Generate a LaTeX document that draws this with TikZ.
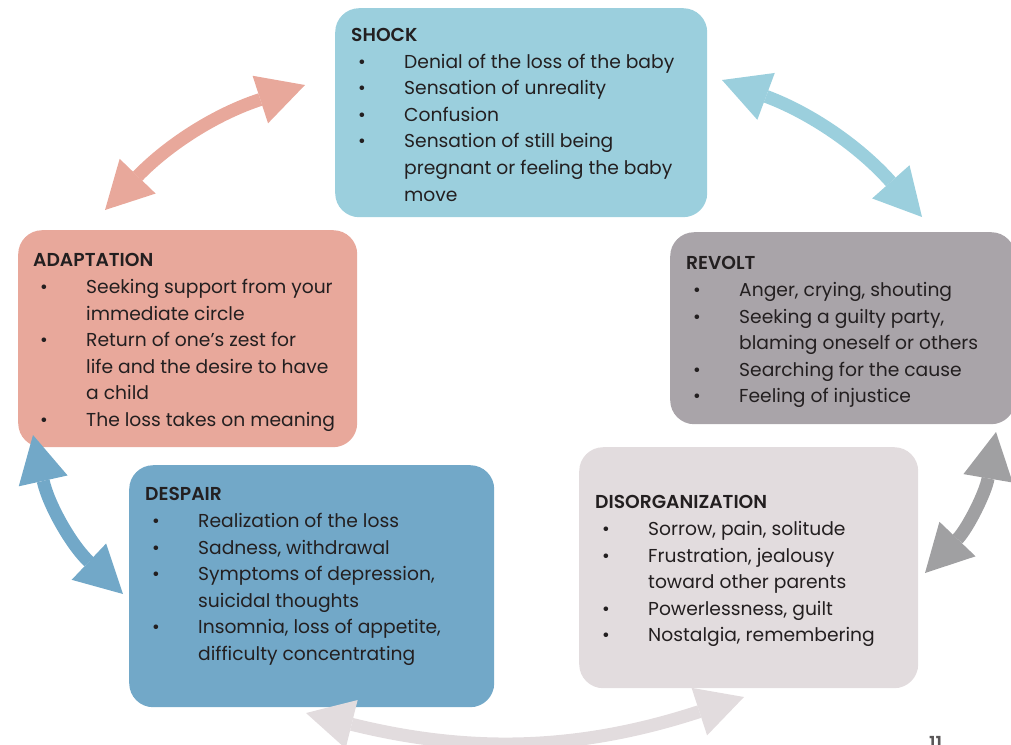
\documentclass[tikz,border=0pt]{standalone}
\usepackage{fontspec}
\setmainfont{Poppins}[BoldFont={Poppins SemiBold}]
\usetikzlibrary{arrows.meta}
\definecolor{shockcol}{HTML}{9BCFDD}
\definecolor{revoltcol}{HTML}{A9A4A9}
\definecolor{disorgcol}{HTML}{E2DCDE}
\definecolor{despaircol}{HTML}{72A8C8}
\definecolor{adaptcol}{HTML}{E8A89B}
\definecolor{greyarrow}{HTML}{A0A0A2}
\definecolor{textcol}{HTML}{231F20}
\newcommand{\bul}{\hspace*{7pt}\makebox[46pt][l]{\textbullet}}
\newcommand{\cont}{\hspace*{53pt}}
\tikzset{
  stagebox/.style={fill=#1, rounded corners=24pt, anchor=north west, inner sep=0pt},
  stagetext/.style={anchor=north west, align=left, inner sep=0pt, text=textcol,
    font=\fontsize{18.7}{26.6}\selectfont},
  cyclearrow/.style={draw=#1, line width=13pt,
    {Triangle[length=47pt,width=50pt,line width=0pt,fill=#1]}-{Triangle[length=47pt,width=50pt,line width=0pt,fill=#1]}}
}
\begin{document}
\begin{tikzpicture}[x=1pt,y=-1pt]
\useasboundingbox (0,0) rectangle (1011,744);
% stage boxes
\node[stagebox=shockcol, minimum width=372pt, minimum height=209pt] (shock) at (335,8) {};
\node[stagebox=revoltcol, minimum width=345pt, minimum height=192pt] (revolt) at (670,232) {};
\node[stagebox=disorgcol, minimum width=339pt, minimum height=241pt] (disorg) at (579,447) {};
\node[stagebox=despaircol, minimum width=365pt, minimum height=242pt] (despair) at (129,465) {};
\node[stagebox=adaptcol, minimum width=339pt, minimum height=217pt] (adapt) at (18,230) {};
% stage texts
\node[stagetext] (shocktxt) at (351,28) {\textbf{SHOCK}\\
\bul Denial of the loss of the baby\\
\bul Sensation of unreality\\
\bul Confusion\\
\bul Sensation of still being\\
\cont pregnant or feeling the baby\\
\cont move};
\node[stagetext] (revolttxt) at (686,256.5) {\textbf{REVOLT}\\
\bul Anger, crying, shouting\\
\bul Seeking a guilty party,\\
\cont blaming oneself or others\\
\bul Searching for the cause\\
\bul Feeling of injustice};
\node[stagetext] (disorgtxt) at (595,495.5) {\textbf{DISORGANIZATION}\\
\bul Sorrow, pain, solitude\\
\bul Frustration, jealousy\\
\cont toward other parents\\
\bul Powerlessness, guilt\\
\bul Nostalgia, remembering};
\node[stagetext] (despairtxt) at (145,487.5) {\textbf{DESPAIR}\\
\bul Realization of the loss\\
\bul Sadness, withdrawal\\
\bul Symptoms of depression,\\
\cont suicidal thoughts\\
\bul Insomnia, loss of appetite,\\
\cont difficulty concentrating};
\node[stagetext] (adapttxt) at (33,253.5) {\textbf{ADAPTATION}\\
\bul Seeking support from your\\
\cont immediate circle\\
\bul Return of one’s zest for\\
\cont life and the desire to have\\
\cont a child\\
\bul The loss takes on meaning};
% arrow ends
\coordinate (adapt-up) at (105,210);
\coordinate (shock-left) at (305,85);
\coordinate (shock-right) at (722,80);
\coordinate (revolt-up) at (922,217);
\coordinate (revolt-down) at (996,432);
\coordinate (disorg-right) at (925,573);
\coordinate (disorg-down) at (744,697);
\coordinate (despair-down) at (306,713);
\coordinate (despair-left) at (123,594);
\coordinate (adapt-down) at (33,435);
% cycle arrows
\draw[cyclearrow=adaptcol] (adapt-up) to[bend left=14] (shock-left);
\draw[cyclearrow=shockcol] (shock-right) to[bend left=14] (revolt-up);
\draw[cyclearrow=greyarrow] (revolt-down) to[bend left=17] (disorg-right);
\draw[cyclearrow=disorgcol] (disorg-down) to[bend left=16] (despair-down);
\draw[cyclearrow=despaircol] (despair-left) to[bend left=17] (adapt-down);
% page number
\node[anchor=north west, inner sep=0pt, text=textcol!75, font=\fontsize{18}{20}\selectfont\bfseries] (page) at (929,736) {11};
\end{tikzpicture}
\end{document}
